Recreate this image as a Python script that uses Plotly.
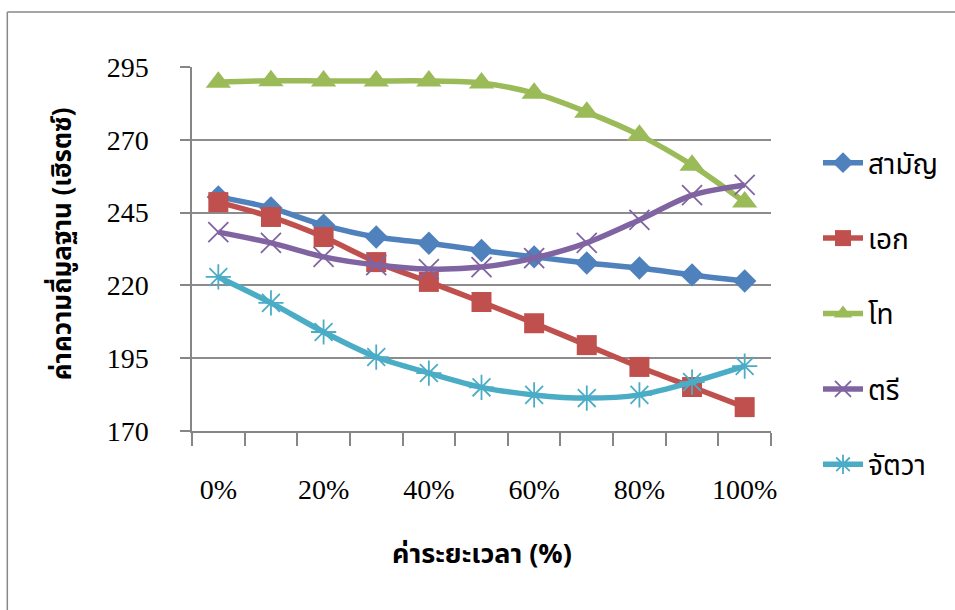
import plotly.graph_objects as go

categories = ["0%", "10%", "20%", "30%", "40%", "50%", "60%", "70%", "80%", "90%", "100%"]
shown_labels = ["0%", "20%", "40%", "60%", "80%", "100%"]
series_names = ["สามัญ", "เอก", "โท", "ตรี", "จัตวา"]
saman = [250.4, 246.6, 240.7, 236.6, 234.5, 232.0, 229.8, 227.7, 226.0, 223.6, 221.5]
ek = [248.6, 243.5, 236.6, 228.0, 221.2, 214.3, 207.0, 199.5, 192.0, 185.1, 178.2]
tho = [289.8, 290.3, 290.2, 290.2, 290.2, 289.5, 286.0, 279.5, 271.6, 261.3, 248.6]
tri = [238.3, 234.6, 229.8, 227.0, 225.6, 226.3, 229.4, 234.6, 242.5, 251.0, 254.5]
chattawa = [222.9, 214.0, 204.0, 195.4, 189.9, 185.0, 182.4, 181.3, 182.4, 186.8, 192.3]
y_ticks = [170, 195, 220, 245, 270, 295]

colors = ["#4F81BD", "#C0504D", "#9BBB59", "#8064A2", "#4BACC6"]
symbols = ["diamond", "square", "triangle-up", "x-thin-open", "asterisk-open"]
sizes = [18, 20, 22, 20, 21]
values = [saman, ek, tho, tri, chattawa]

xidx = list(range(len(categories)))

L, R, T, B = 192, 183, 67, 179
W, H = 955, 610
pw, ph = W - L - R, H - T - B

def px(x):
    return (x - L) / pw

def py(y):
    return (H - B - y) / ph

fig = go.Figure()
for i, (name, vals) in enumerate(zip(series_names, values)):
    marker = dict(symbol=symbols[i], size=sizes[i], color=colors[i])
    if symbols[i].endswith("open"):
        marker["line"] = dict(color=colors[i], width=1.8)
    else:
        marker["line"] = dict(color=colors[i], width=0)
    fig.add_trace(go.Scatter(
        x=xidx, y=vals, name=name, mode="lines+markers",
        line=dict(color=colors[i], width=5.5, shape="spline", smoothing=0.8),
        marker=marker, legendgroup=str(i),
        customdata=categories,
    ))

thai_font = "Noto Sans Thai, Noto Sans, DejaVu Sans, sans-serif"
num_font = "Liberation Serif, Times New Roman, serif"

fig.update_layout(
    width=W, height=H,
    margin=dict(l=L, r=R, t=T, b=B),
    paper_bgcolor="white", plot_bgcolor="white",
    showlegend=True,
    legend=dict(
        x=px(818), y=py(138), xanchor="left", yanchor="top",
        font=dict(family=thai_font, size=28, color="black"),
        tracegroupgap=36, itemwidth=40,
        bgcolor="rgba(0,0,0,0)",
    ),
    xaxis=dict(
        range=[-0.5, 10.5],
        tickmode="array",
        tickvals=[categories.index(c) for c in shown_labels],
        ticktext=shown_labels,
        ticks="", showgrid=False, zeroline=False,
        showline=True, linecolor="#868686", linewidth=1.5,
        tickfont=dict(family=num_font, size=28, color="black"),
        ticklabelstandoff=33,
        minor=dict(tick0=-0.5, dtick=1, ticks="outside", ticklen=13,
                   tickcolor="#868686", tickwidth=1.5, showgrid=False),
    ),
    yaxis=dict(
        range=[170, 295],
        tickmode="array", tickvals=y_ticks,
        ticks="outside", ticklen=10, tickcolor="#868686", tickwidth=1.5,
        showgrid=True, gridcolor="#8C8C8C", gridwidth=1.5,
        zeroline=False,
        showline=True, linecolor="#868686", linewidth=1.5,
        tickfont=dict(family=num_font, size=28, color="black"),
        ticklabelstandoff=26,
    ),
    annotations=[
        dict(text="<b>ค่าความถี่มูลฐาน (เฮิรตซ์)</b>", xref="paper", yref="paper",
             x=px(63), y=py(244), textangle=-90, showarrow=False,
             font=dict(family=thai_font, size=26, color="black"),
             xanchor="center", yanchor="middle"),
        dict(text="<b>ค่าระยะเวลา (%)</b>", xref="paper", yref="paper",
             x=px(482), y=py(554), showarrow=False,
             font=dict(family=thai_font, size=27, color="black"),
             xanchor="center", yanchor="middle"),
    ],
    shapes=[
        dict(type="line", xref="paper", yref="paper", x0=px(7), x1=px(7), y0=py(12), y1=py(612),
             line=dict(color="#888888", width=1.5)),
        dict(type="line", xref="paper", yref="paper", x0=px(7), x1=px(957), y0=py(12), y1=py(12),
             line=dict(color="#888888", width=1.5)),
    ],
)

fig.write_html("out.html", config={"displayModeBar": False},
               post_script="document.body.style.margin='0';")
